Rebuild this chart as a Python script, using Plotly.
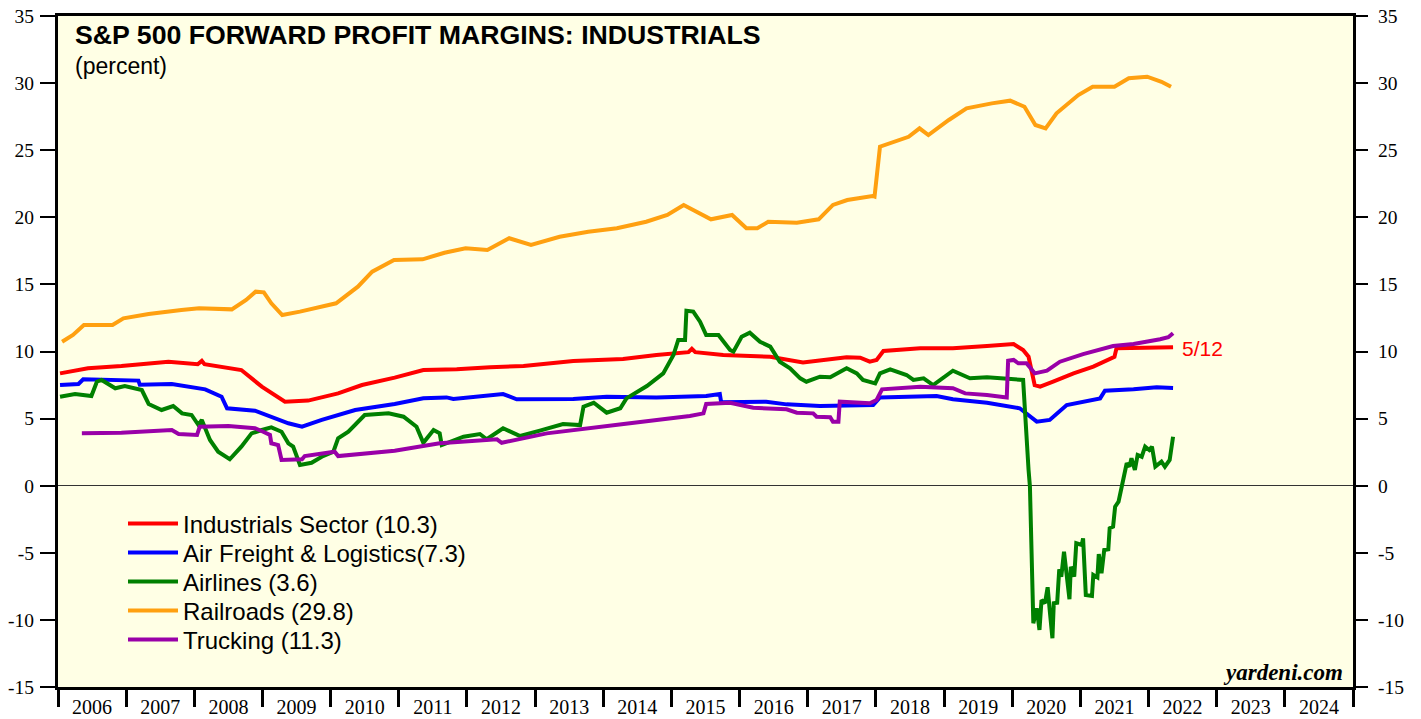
import plotly.graph_objects as go

# ---------------- data (decimal years, percent) ----------------
year_labels = [str(y) for y in range(2006, 2025)]
y_ticks = [-15, -10, -5, 0, 5, 10, 15, 20, 25, 30, 35]
y_tick_text = ["-15", "-10", "-5", "0", "5", "10", "15", "20", "25", "30", "35"]

ind_x = [2006.03, 2006.44, 2006.93, 2007.62, 2008.05, 2008.11, 2008.15, 2008.69, 2008.99, 2009.33,
         2009.67, 2010.11, 2010.46, 2010.94, 2011.36, 2011.85, 2012.34, 2012.83, 2013.56, 2014.29,
         2014.78, 2015.25, 2015.30, 2015.35, 2015.76, 2016.45, 2016.93, 2017.57, 2017.77, 2017.91,
         2018.01, 2018.11, 2018.65, 2019.13, 2019.63, 2020.02, 2020.16, 2020.24, 2020.33, 2020.41,
         2020.60, 2020.90, 2021.19, 2021.43, 2021.50, 2021.53, 2021.78, 2022.36]
ind_y = [8.37, 8.75, 8.92, 9.24, 9.05, 9.30, 9.05, 8.62, 7.38, 6.26,
         6.34, 6.88, 7.50, 8.05, 8.62, 8.67, 8.82, 8.92, 9.29, 9.44,
         9.74, 9.95, 10.20, 9.95, 9.74, 9.61, 9.19, 9.57, 9.54, 9.24,
         9.37, 10.04, 10.24, 10.24, 10.41, 10.56, 10.11, 9.61, 7.50, 7.38,
         7.75, 8.37, 8.87, 9.49, 9.60, 10.24, 10.24, 10.31]

af_x = [2006.03, 2006.30, 2006.37, 2006.93, 2007.18, 2007.20, 2007.67, 2008.16, 2008.40, 2008.48,
        2008.89, 2009.38, 2009.58, 2009.87, 2010.36, 2010.94, 2011.36, 2011.70, 2011.80, 2012.53,
        2012.73, 2013.56, 2014.05, 2014.78, 2015.51, 2015.71, 2015.73, 2016.39, 2016.69, 2017.18,
        2017.96, 2018.06, 2018.89, 2019.13, 2019.63, 2020.11, 2020.36, 2020.55, 2020.70, 2020.80,
        2021.29, 2021.36, 2021.78, 2022.12, 2022.36]
af_y = [7.50, 7.58, 7.93, 7.83, 7.83, 7.53, 7.58, 7.18, 6.63, 5.77,
        5.59, 4.65, 4.40, 4.90, 5.64, 6.09, 6.51, 6.58, 6.46, 6.83,
        6.44, 6.46, 6.63, 6.58, 6.68, 6.83, 6.22, 6.26, 6.06, 5.94,
        6.01, 6.58, 6.68, 6.44, 6.18, 5.77, 4.77, 4.90, 5.51, 6.01,
        6.51, 7.08, 7.18, 7.33, 7.28]

air_x = [2006.03, 2006.25, 2006.49, 2006.57, 2006.64, 2006.84, 2006.98, 2007.23, 2007.33, 2007.52,
         2007.69, 2007.82, 2007.96, 2008.06, 2008.11, 2008.23, 2008.35, 2008.52, 2008.69, 2008.84,
         2008.99, 2009.13, 2009.28, 2009.38, 2009.45, 2009.55, 2009.72, 2009.87, 2010.04, 2010.11,
         2010.26, 2010.50, 2010.85, 2011.07, 2011.26, 2011.36, 2011.51, 2011.60, 2011.63, 2011.95,
         2012.19, 2012.29, 2012.53, 2012.78, 2013.07, 2013.41, 2013.66, 2013.71, 2013.86, 2014.05,
         2014.25, 2014.34, 2014.64, 2014.88, 2015.03, 2015.10, 2015.20, 2015.22, 2015.32, 2015.42,
         2015.51, 2015.69, 2015.86, 2015.91, 2016.03, 2016.15, 2016.30, 2016.45, 2016.59, 2016.74,
         2016.89, 2016.98, 2017.18, 2017.33, 2017.57, 2017.72, 2017.81, 2017.99, 2018.06, 2018.21,
         2018.45, 2018.55, 2018.70, 2018.84, 2019.13, 2019.38, 2019.63, 2019.97, 2020.16, 2020.24,
         2020.26, 2020.31, 2020.36, 2020.40, 2020.43, 2020.48, 2020.52, 2020.55, 2020.59, 2020.61,
         2020.66, 2020.69, 2020.72, 2020.76, 2020.84, 2020.86, 2020.91, 2020.94, 2021.02, 2021.04,
         2021.08, 2021.17, 2021.19, 2021.25, 2021.27, 2021.31, 2021.35, 2021.41, 2021.43, 2021.48,
         2021.51, 2021.56, 2021.61, 2021.63, 2021.68, 2021.72, 2021.75, 2021.80, 2021.84, 2021.90,
         2021.95, 2022.01, 2022.05, 2022.10, 2022.19, 2022.24, 2022.31, 2022.36]
air_y = [6.63, 6.83, 6.68, 7.75, 7.88, 7.26, 7.43, 7.13, 6.09, 5.64,
         5.94, 5.39, 5.27, 4.52, 4.90, 3.41, 2.53, 1.97, 2.91, 3.90,
         4.15, 4.35, 4.02, 3.16, 2.91, 1.54, 1.71, 2.16, 2.53, 3.53,
         4.02, 5.27, 5.39, 5.14, 4.40, 3.20, 4.15, 3.90, 3.03, 3.65,
         3.85, 3.46, 4.28, 3.70, 4.10, 4.60, 4.52, 5.89, 6.18, 5.44,
         5.77, 6.51, 7.43, 8.37, 9.74, 10.86, 10.86, 13.04, 12.97, 12.22,
         11.23, 11.23, 10.11, 9.99, 11.10, 11.40, 10.73, 10.36, 9.24, 8.75,
         8.00, 7.75, 8.12, 8.08, 8.75, 8.37, 7.88, 7.63, 8.37, 8.67,
         8.25, 7.88, 8.00, 7.50, 8.57, 8.00, 8.08, 7.93, 7.88, 1.17,
         -0.07, -10.25, -9.14, -10.75, -8.52, -8.76, -7.57, -9.26, -11.37, -8.76,
         -8.72, -6.23, -6.78, -4.92, -8.46, -6.04, -6.78, -4.29, -4.42, -3.92,
         -8.14, -8.22, -6.65, -6.83, -5.09, -6.53, -4.79, -4.74, -3.17, -3.05,
         -1.56, -1.19, 0.05, 0.72, 1.67, 1.42, 2.04, 1.17, 2.29, 2.16,
         2.91, 2.66, 2.91, 1.42, 1.79, 1.42, 1.92, 3.65]

rr_x = [2006.06, 2006.22, 2006.38, 2006.80, 2006.96, 2007.33, 2007.81, 2008.07, 2008.55, 2008.76,
        2008.90, 2009.02, 2009.13, 2009.29, 2009.55, 2010.08, 2010.40, 2010.61, 2010.93, 2011.35,
        2011.67, 2011.98, 2012.30, 2012.62, 2012.94, 2013.36, 2013.78, 2014.20, 2014.63, 2014.94,
        2015.18, 2015.42, 2015.58, 2015.89, 2016.10, 2016.26, 2016.42, 2016.84, 2017.16, 2017.37,
        2017.58, 2017.95, 2017.98, 2018.06, 2018.27, 2018.48, 2018.64, 2018.77, 2019.07, 2019.33,
        2019.70, 2019.97, 2020.18, 2020.34, 2020.49, 2020.65, 2020.97, 2021.18, 2021.50, 2021.71,
        2021.98, 2022.19, 2022.33]
rr_y = [10.73, 11.23, 11.97, 11.97, 12.47, 12.79, 13.09, 13.22, 13.14, 13.84,
        14.46, 14.41, 13.59, 12.72, 12.97, 13.59, 14.83, 15.95, 16.82, 16.87,
        17.36, 17.69, 17.56, 18.44, 17.94, 18.55, 18.93, 19.18, 19.67, 20.17,
        20.92, 20.30, 19.85, 20.17, 19.18, 19.18, 19.67, 19.60, 19.85, 20.92,
        21.29, 21.59, 21.54, 25.26, 25.63, 26.00, 26.63, 26.13, 27.25, 28.12,
        28.49, 28.69, 28.24, 26.88, 26.63, 27.75, 29.11, 29.73, 29.73, 30.36,
        30.48, 30.10, 29.73]

tr_x = [2006.35, 2006.93, 2007.67, 2007.77, 2008.04, 2008.08, 2008.50, 2008.89, 2009.01, 2009.11,
        2009.13, 2009.23, 2009.28, 2009.58, 2009.62, 2010.06, 2010.11, 2010.94, 2011.60, 2012.44,
        2012.51, 2012.83, 2013.17, 2014.30, 2015.27, 2015.47, 2015.51, 2015.86, 2016.20, 2016.69,
        2016.84, 2017.08, 2017.13, 2017.33, 2017.37, 2017.45, 2017.47, 2017.91, 2018.01, 2018.09,
        2018.65, 2019.13, 2019.31, 2019.63, 2019.92, 2019.94, 2020.02, 2020.09, 2020.21, 2020.33,
        2020.51, 2020.70, 2021.04, 2021.48, 2021.78, 2022.17, 2022.29, 2022.36]
tr_y = [3.90, 3.95, 4.15, 3.85, 3.78, 4.40, 4.45, 4.28, 4.02, 3.78,
        3.16, 3.03, 1.92, 1.97, 2.21, 2.53, 2.21, 2.61, 3.16, 3.46,
        3.20, 3.53, 3.90, 4.60, 5.19, 5.39, 6.09, 6.18, 5.81, 5.69,
        5.44, 5.39, 5.14, 5.10, 4.77, 4.77, 6.26, 6.14, 6.39, 7.18,
        7.38, 7.26, 6.88, 6.76, 6.58, 9.31, 9.37, 9.12, 9.12, 8.37,
        8.57, 9.24, 9.81, 10.41, 10.56, 10.91, 11.06, 11.36]

series = [
    ("Industrials Sector (10.3)", ind_x, ind_y, "#FF0000"),
    ("Air Freight & Logistics(7.3)", af_x, af_y, "#0000FF"),
    ("Airlines (3.6)", air_x, air_y, "#008000"),
    ("Railroads (29.8)", rr_x, rr_y, "#FFA010"),
    ("Trucking (11.3)", tr_x, tr_y, "#9900A8"),
]

# The page body adds an 8px offset; target window coordinates are converted to figure coordinates.
OFF = 8
W, H = 1421 - OFF, 719 - OFF
PX0, PX1, PY0, PY1 = 58 - OFF, 1353 - OFF, 16 - OFF, 687 - OFF   # plot area in figure px
L, R, T, B = PX0, W - PX1, PY0, H - PY1
plot_w, plot_h = PX1 - PX0, PY1 - PY0


def paper_x(win_x):
    return (win_x - OFF - PX0) / plot_w


def paper_y(win_y):
    return (PY1 - (win_y - OFF)) / plot_h


legend_names = ["legend", "legend2", "legend3", "legend4", "legend5"]
legend_centers_win = [524, 553, 582, 611, 640]

fig = go.Figure()
for (name, xs, ys, col), lg in zip(series, legend_names):
    fig.add_trace(go.Scatter(x=xs, y=ys, mode="lines", name=name, legend=lg,
                             line=dict(color=col, width=4)))
# invisible trace to activate the right-hand axis
fig.add_trace(go.Scatter(x=[None], y=[None], yaxis="y2", showlegend=False, hoverinfo="skip"))

legend_font = dict(family="Liberation Sans", size=24, color="black")
legend_layout = {}
for lg, cy in zip(legend_names, legend_centers_win):
    legend_layout[lg] = dict(x=paper_x(123), y=paper_y(cy),
                             xanchor="left", yanchor="middle",
                             bgcolor="rgba(0,0,0,0)", borderwidth=0, itemwidth=50,
                             font=legend_font)

xtick_font = dict(family="Liberation Serif", size=20, color="black")
ytick_font = dict(family="Liberation Serif", size=19.5, color="black")

fig.update_layout(
    width=W, height=H,
    margin=dict(l=L, r=R, t=T, b=B, autoexpand=False),
    paper_bgcolor="white",
    plot_bgcolor="#FFFFE5",
    showlegend=True,
    **legend_layout,
    xaxis=dict(range=[2006, 2025], showgrid=False, zeroline=False,
               tickmode="array", tickvals=[y + 0.5 for y in range(2006, 2025)],
               ticktext=year_labels, ticks="", ticklabelstandoff=0,
               ticklabeloverflow="allow", tickfont=xtick_font,
               minor=dict(tickmode="array", tickvals=list(range(2006, 2026)),
                          ticks="outside", ticklen=17, tickwidth=3, tickcolor="black",
                          showgrid=False),
               showline=True, linecolor="black", linewidth=3, mirror=True),
    yaxis=dict(range=[-15, 35], tickmode="array", tickvals=y_ticks, ticktext=y_tick_text,
               showgrid=False, ticks="outside", ticklen=15, tickwidth=1.5, tickcolor="black",
               tickfont=ytick_font, ticklabelstandoff=2, ticklabeloverflow="allow",
               zeroline=True, zerolinecolor="#333333", zerolinewidth=1,
               showline=True, linecolor="black", linewidth=3, mirror=True),
    yaxis2=dict(range=[-15, 35], tickmode="array", tickvals=y_ticks, ticktext=y_tick_text,
                overlaying="y", side="right", showgrid=False, zeroline=False,
                ticks="outside", ticklen=14, tickwidth=1.5, tickcolor="black",
                tickfont=ytick_font, ticklabelstandoff=6, ticklabeloverflow="allow",
                showline=False),
    annotations=[
        dict(text="<b>S&P 500 FORWARD PROFIT MARGINS: INDUSTRIALS</b>", xref="paper", yref="paper",
             x=paper_x(73), y=paper_y(35), xanchor="left", yanchor="middle",
             showarrow=False, font=dict(family="Liberation Sans", size=26.7, color="black")),
        dict(text="(percent)", xref="paper", yref="paper",
             x=paper_x(73), y=paper_y(66), xanchor="left", yanchor="middle",
             showarrow=False, font=dict(family="Liberation Sans", size=23, color="black")),
        dict(text="5/12", xref="x", yref="y", x=2022.46, y=10.25, xanchor="left",
             yanchor="middle", showarrow=False,
             font=dict(family="Liberation Sans", size=21, color="#FF0000")),
        dict(text="<b><i>yardeni.com</i></b>", xref="paper", yref="paper",
             x=paper_x(1345), y=paper_y(672), xanchor="right",
             yanchor="middle", showarrow=False,
             font=dict(family="Liberation Serif", size=23, color="black")),
    ],
)

fig.write_html("out.html")
